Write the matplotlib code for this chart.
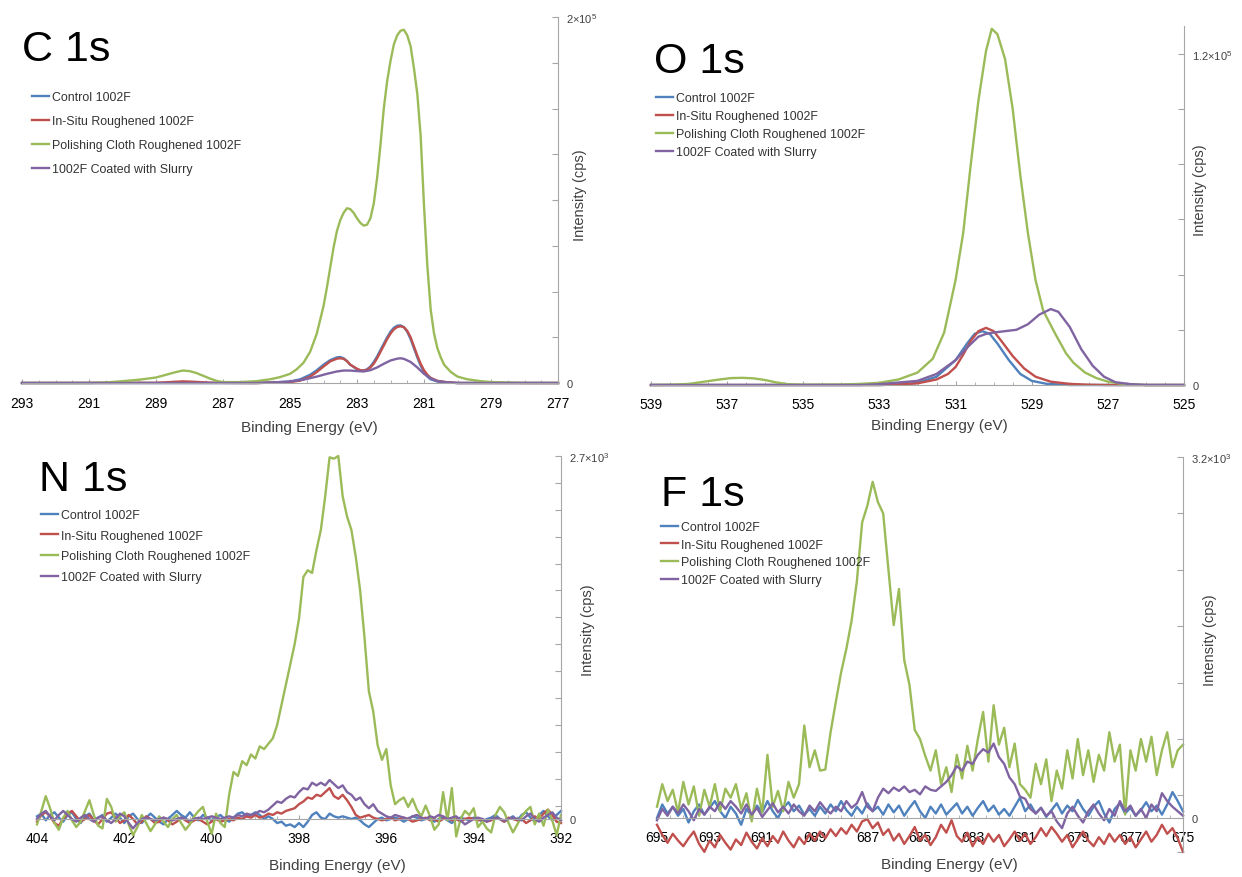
import numpy as np
import matplotlib
matplotlib.use('Agg')
import matplotlib.pyplot as plt
from matplotlib.ticker import MultipleLocator

plt.rcParams['font.family'] = ['Liberation Sans', 'DejaVu Sans']
plt.rcParams['mathtext.fontset'] = 'custom'
plt.rcParams['mathtext.rm'] = 'Liberation Sans'

W, H = 1242, 878

labels = ['Control 1002F', 'In-Situ Roughened 1002F',
          'Polishing Cloth Roughened 1002F', '1002F Coated with Slurry']
colors = ['#4F81BD', '#C0504D', '#9BBB59', '#8064A2']

# ---------------- C 1s (binding energy eV, counts) ----------------
c_blue_x = [293, 286, 285.5, 285.0, 284.7, 284.4, 284.2, 284.0, 283.8, 283.6, 283.5, 283.4, 283.3,
            283.2, 283.0, 282.9, 282.8, 282.7, 282.6, 282.5, 282.4, 282.3, 282.2, 282.1, 282.0,
            281.9, 281.8, 281.7, 281.6, 281.5, 281.4, 281.3, 281.2, 281.1, 281.0, 280.9, 280.8,
            280.6, 280.3, 280, 277]
c_blue_y = [0, 0, 300, 800, 2000, 4500, 7000, 10000, 12500, 14000, 14200, 13500, 12000,
            10000, 7500, 6800, 6800, 7500, 9000, 11500, 14500, 18000, 21500, 25000, 28000,
            30200, 31300, 31500, 30500, 28000, 24000, 19000, 14000, 9500, 6000, 3500, 2000,
            800, 300, 0, 0]

c_red_x = [293, 289, 288.6, 288.2, 287.8, 287.3, 286, 285.5, 285.0, 284.7, 284.4, 284.2, 284.0,
           283.8, 283.6, 283.5, 283.4, 283.3, 283.2, 283.0, 282.9, 282.8, 282.7, 282.6, 282.5,
           282.4, 282.3, 282.2, 282.1, 282.0, 281.9, 281.8, 281.7, 281.6, 281.5, 281.4, 281.3,
           281.2, 281.1, 281.0, 280.9, 280.8, 280.6, 280.3, 280, 277]
c_red_y = [0, 100, 500, 900, 600, 100, 0, 200, 500, 1300, 3500, 6000, 9000,
           11800, 13300, 13500, 13200, 12000, 10000, 7800, 7000, 6800, 7200, 8500, 10500,
           13500, 17000, 20500, 24000, 27000, 29300, 30600, 31000, 30500, 28500, 25000, 20000,
           15000, 10500, 7000, 4500, 2800, 1200, 400, 0, 0]

c_green_x = [293, 291, 290.5, 290.0, 289.5, 289.0, 288.7, 288.4, 288.2, 288.0, 287.8, 287.6,
             287.4, 287.2, 287.0, 286.5, 286.0, 285.6, 285.3, 285.0, 284.8, 284.6, 284.4, 284.2,
             284.0, 283.9, 283.8, 283.7, 283.6, 283.5, 283.4, 283.3, 283.2, 283.1, 283.0, 282.9,
             282.8, 282.7, 282.6, 282.5, 282.4, 282.3, 282.2, 282.1, 282.0, 281.9, 281.8, 281.7,
             281.6, 281.5, 281.4, 281.3, 281.2, 281.1, 281.0, 280.9, 280.8, 280.7, 280.6, 280.5,
             280.4, 280.2, 280.0, 279.7, 279.3, 279.0, 278.0, 277.0]
c_green_y = [0, 0, 300, 1000, 1800, 3000, 4500, 6000, 6800, 6500, 5500, 4000,
             2500, 1200, 500, 500, 1000, 2000, 3200, 5000, 7500, 11000, 17000, 27000,
             42000, 52000, 63000, 74000, 83000, 89000, 93000, 95500, 95000, 93000, 90000, 87500,
             86000, 86500, 90000, 98000, 112000, 130000, 150000, 165000, 176000, 185000, 190000, 192500,
             193000, 190000, 184000, 172000, 158000, 135000, 97000, 64000, 40000, 27000, 19000, 14000,
             10000, 6000, 3500, 2000, 1000, 500, 0, 0]

c_purple_x = [293, 286, 285.5, 285.0, 284.6, 284.2, 283.9, 283.6, 283.4, 283.2, 283.0, 282.8,
              282.6, 282.4, 282.2, 282.0, 281.8, 281.7, 281.6, 281.4, 281.2, 281.0, 280.8,
              280.6, 280.3, 280, 277]
c_purple_y = [0, 0, 300, 800, 1800, 3500, 5000, 6300, 6800, 6800, 6500, 6300,
              7000, 8500, 10500, 12300, 13300, 13500, 13200, 11500, 8500, 5000, 2500,
              1000, 300, 0, 0]

# ---------------- O 1s ----------------
o_blue_x = [539, 533, 532.5, 532, 531.5, 531.0, 530.7, 530.5, 530.3, 530.1, 529.9, 529.6,
            529.3, 529.0, 528.6, 528, 525]
o_blue_y = [0, 0, 200, 800, 3000, 9000, 15000, 18500, 19500, 18500, 15000, 9000,
            4000, 1500, 400, 0, 0]

o_red_x = [539, 533, 532.5, 532, 531.5, 531.2, 531.0, 530.8, 530.6, 530.4, 530.2, 530.0, 529.8,
           529.5, 529.2, 528.9, 528.5, 528, 527.5, 527, 525]
o_red_y = [0, 0, 200, 600, 2000, 4000, 6500, 11000, 16000, 19500, 20700, 19500, 16000,
           10500, 6000, 3000, 1200, 400, 100, 0, 0]

o_green_x = [539, 538.5, 538.0, 537.6, 537.2, 536.9, 536.6, 536.3, 536.0, 535.7, 535.4, 535.0,
             534.0, 533.5, 533.0, 532.5, 532.0, 531.6, 531.3, 531.0, 530.8, 530.6, 530.4, 530.2,
             530.05, 529.9, 529.7, 529.5, 529.3, 529.1, 528.9, 528.7, 528.4, 528.1, 527.9, 527.6,
             527.3, 527.0, 526.6, 526.0, 525]
o_green_y = [0, 100, 400, 1200, 2000, 2500, 2600, 2400, 1800, 900, 300, 100,
             200, 400, 800, 2000, 4500, 9500, 19000, 38000, 55000, 80000, 103000, 121000,
             129000, 127000, 118000, 100000, 76000, 55000, 38000, 27000, 19000, 11500, 8000, 4500,
             2500, 1200, 400, 0, 0]

o_purple_x = [539, 533.5, 533, 532, 531.5, 531, 530.7, 530.4, 530.2, 530, 529.7, 529.4, 529.1,
              528.8, 528.5, 528.3, 528.0, 527.7, 527.4, 527.1, 526.8, 526.4, 526, 525]
o_purple_y = [0, 0, 300, 1500, 4000, 9000, 13500, 17500, 18500, 19000, 19500, 20000, 22000,
              25500, 27500, 26500, 21000, 13000, 7000, 3000, 1000, 300, 0, 0]

# ---------------- N 1s (404.0 -> 392.0 eV, 0.1 eV steps) ----------------
n_start, n_stop = 404.0, 392.0
n_blue = [20, 40, -10, 30, 50, 10, -20, 30, 50, 0,
          -30, 20, 40, -10, 10, 30, -20, 10, 40, 10,
          -30, 20, 40, 0, -30, 10, 40, 10, -20, -40,
          0, 30, 60, 30, 10, 50, 10, -10, 30, 10,
          -10, 10, 30, 0, -20, 10, 40, 50, 20, 30,
          50, 30, 0, 20, 0, -30, -20, -50, -40, -60,
          -30, -60, -20, 30, 50, 10, 0, 40, 20, 10,
          20, 10, 0, 10, -10, -40, -60, -30, 0, 10,
          -10, 0, 10, 0, -20, 0, 20, 10, -10, 0,
          10, -20, 0, 10, -10, -30, 0, 10, 0, -10,
          10, 0, -20, 0, 10, 30, 0, -20, 0, 20,
          -10, 30, 50, 10, -20, 30, 60, 20, -10, 30,
          60]
n_red = [-20, 30, 50, 20, -30, -50, 0, 40, 60, 20,
         -20, 0, 30, -10, -40, 0, 40, 50, 10, -30,
         -10, 30, 0, -40, -20, 20, 0, -30, -20, 10,
         -10, -40, -20, 10, -10, -30, -10, 0, -20, -40,
         -20, 0, -20, -10, 0, -10, 10, 0, 20, 10,
         30, 10, 20, 40, 30, 50, 40, 60, 70, 80,
         110, 130, 160, 150, 180, 170, 200, 230, 170, 150,
         180, 140, 90, 30, 10, 20, 30, 10, 0, -10,
         0, 10, -10, 0, 10, 0, -20, -10, 0, 10,
         -10, 0, -20, 0, 10, -10, 0, -20, 0, 10,
         0, -10, 0, -20, -10, 10, 0, -20, 10, 0,
         -10, 0, -30, -10, 20, 0, 40, 70, 30, -20,
         -30]
n_green = [-40, 60, 170, 80, -30, -80, 10, 60, -10, -60,
           -20, 60, 140, 30, -50, -70, 150, 90, -20, 20,
           50, -40, -120, -60, 30, -30, -90, -40, 20, -20,
           -60, 0, 30, -30, -80, -40, 20, 60, 90, -20,
           -110, 40, -30, -60, 180, 350, 320, 430, 400, 480,
           450, 540, 520, 560, 600, 700, 850, 1000, 1150, 1300,
           1490, 1800, 1850, 1830, 2000, 2150, 2400, 2690, 2680, 2700,
           2400, 2250, 2150, 1950, 1700, 1350, 950, 800, 550, 440,
           520, 250, 110, 140, 160, 90, 150, 70, 20, 100,
           20, -80, -40, 200, -10, 230, -130, 0, 60, 30,
           80, -60, -20, -70, -100, 30, 90, 50, -30, -100,
           -40, 20, 60, 90, -40, 40, -50, 70, -10, -120,
           30]
n_purple = [0, 40, 60, 20, -10, 30, 60, 30, 0, -20,
            10, 30, 0, -20, 10, 20, -10, -30, 0, 40,
            20, -30, -70, -30, 0, 10, 0, -10, 0, 10,
            0, -10, 0, 10, 0, -10, 0, 10, 0, 10,
            20, 10, 0, 10, 20, 10, 30, 20, 40, 30,
            40, 60, 50, 70, 100, 130, 120, 150, 170, 160,
            200, 230, 220, 270, 250, 270, 250, 290, 260, 230,
            250, 200, 180, 140, 160, 110, 80, 110, 60, 40,
            20, 10, 30, 20, 10, 0, 20, 30, 10, 0,
            20, 10, 30, 20, 0, 10, 20, -10, -40, -20,
            0, 10, 0, -20, 0, 10, 0, -10, 0, 10,
            0, -10, 20, 40, 0, -20, 10, 30, 50, 10,
            -10]

# ---------------- F 1s (695.0 -> 675.0 eV, 0.2 eV steps) ----------------
f_start, f_stop = 695.0, 675.0
f_blue = [0, 120, 40, 100, 20, 80, -40, 60, 120, 30,
          90, 150, 60, 0, 100, 40, -60, 80, 20, 110,
          50, 150, 60, 0, 90, 140, 60, 110, 30, 80,
          20, 100, 40, 120, 60, 150, 70, 20, 100, 40,
          130, 60, 100, 30, 120, 50, 110, 20, 90, 150,
          60, 0, 100, 40, 120, 30, 80, 130, 40, 100,
          20, 90, 150, 60, 110, 30, 80, 20, 100, 180,
          60, 120, 40, 90, 10, 70, 130, 40, 110, 60,
          160, 80, 20, 100, 150, 40, -40, 80, 130, 40,
          90, 20, 70, 140, 60, 110, 30, 120, 230, 150,
          60]
f_red = [-60, -150, -220, -140, -200, -250, -180, -120, -230, -300,
         -200, -260, -150, -220, -280, -190, -240, -130, -210, -270,
         -180, -250, -160, -220, -120, -200, -260, -170, -230, -140,
         -200, -120, -180, -100, -160, -90, -140, -60, -120, -30,
         -10, -90, -40, -150, -100, -200, -140, -230, -160, -80,
         -200, -150, -240, -170, -60, -130, -20, -160, -210, -130,
         -250, -170, -230, -140, -210, -150, -250, -190, -120, -200,
         -140, -230, -170, -90, -160, -80, -140, -210, -150, -260,
         -190, -120, -200, -250, -170, -230, -140, -210, -150, -230,
         -170, -260, -190, -120, -210, -150, -60, -140, -90, -180,
         -300]
f_green = [100, 300, 150, 250, 50, 320, 120, 280, 20, 250,
           100, 300, 60, 260, 180, 300, 80, 220, -30, 260,
           50, 560, 100, 240, 60, 320, 180, 300, 820, 450,
           600, 420, 430, 760, 1030, 1290, 1500, 1750, 2100, 2620,
           2770, 2980, 2800, 2700, 2200, 1710, 2030, 1400, 1180, 780,
           700, 550, 420, 600, 300, 450, 230, 560, 350, 640,
           420, 700, 940, 500, 1000, 650, 800, 450, 660, 300,
           250, 180, 480, 300, 520, 150, 420, 260, 600, 350,
           700, 380, 600, 320, 560, 420, 760, 500, 650, 30,
           600, 420, 700, 500, 720, 380, 600, 760, 450, 600,
           650]
f_purple = [-20, 80, 20, 100, 40, 120, 60, -20, 80, 30,
            100, 60, 140, 80, 150, 100, 40, 120, 30, 90,
            10, 70, 130, 50, 100, 40, 120, 60, 20, 110,
            60, 140, 80, 40, 100, 60, 150, 90, 130, 230,
            100, 60, 180, 260, 220, 270, 240, 280, 230, 250,
            210, 280, 250, 240, 280, 320, 380, 460, 420, 500,
            480, 560, 610, 580, 660, 540, 480, 360, 300, 190,
            170, 80, 40, 90, 20, 60, -30, -90, 40, 100,
            20, -40, 60, 120, 40, -20, 80, 20, 150, 60,
            110, 20, 80, 0, 120, 60, 220, 150, 100, 60,
            20]

fig = plt.figure(figsize=(W / 100, H / 100), dpi=100)
gray = '#A6A6A6'
txt = '#404040'


def make_panel(l, r, top, zero, ymin, ymax):
    # place axes so that data ymax sits at pixel `top` and 0 at pixel `zero`
    scale = (zero - top) / ymax
    bottom = zero - ymin * scale
    ax = fig.add_axes([l / W, 1 - bottom / H, (r - l) / W, (bottom - top) / H])
    ax.set_ylim(ymin, ymax)
    box = (l, r, top, bottom)
    return ax, box


def style(ax, box, xlim, xticks, yticks, ylabels, spine_lo, title, title_pos,
          xlab_pos, ylab_pos, leg_pos, leg_space):
    l, r, top, bottom = box
    ax.set_xlim(*xlim)
    ax.set_xticks(xticks)
    ax.set_xticklabels([str(t) for t in xticks], fontsize=10, fontweight='bold', color=txt)
    ax.xaxis.set_minor_locator(MultipleLocator(0.5))
    ax.set_yticks(yticks)
    ax.set_yticklabels(ylabels, fontsize=8, color=txt)
    for s in ['left', 'top']:
        ax.spines[s].set_visible(False)
    ax.spines['bottom'].set_position(('data', 0))
    ax.spines['bottom'].set_color(gray)
    ax.spines['right'].set_color(gray)
    ax.spines['right'].set_bounds(spine_lo, ax.get_ylim()[1])
    ax.yaxis.tick_right()
    ax.tick_params(axis='y', which='both', direction='in', length=4, color=gray, pad=6)
    ax.tick_params(axis='x', which='major', direction='in', length=3, color=gray, pad=9)
    ax.tick_params(axis='x', which='minor', direction='in', length=2, color=gray)
    ax.patch.set_alpha(0)

    ax.set_xlabel('Binding Energy (eV)', fontsize=11, color=txt)
    ax.xaxis.set_label_coords((xlab_pos[0] - l) / (r - l), (bottom - xlab_pos[1]) / (bottom - top))
    ax.xaxis.label.set_va('center')
    ax.yaxis.set_label_position('right')
    ax.set_ylabel('Intensity (cps)', fontsize=10.5, color=txt, rotation=90)
    ax.yaxis.set_label_coords((ylab_pos[0] - l) / (r - l), (bottom - ylab_pos[1]) / (bottom - top))
    ax.yaxis.label.set_va('center')
    ax.yaxis.label.set_ha('center')

    fig.text(title_pos[0] / W, 1 - title_pos[1] / H, title, fontsize=31,
             va='baseline', ha='left', color='black')
    ax.legend(loc='upper left', bbox_to_anchor=(leg_pos[0] / W, 1 - leg_pos[1] / H),
              bbox_transform=fig.transFigure, frameon=False, fontsize=8.9,
              labelcolor='#333333', handlelength=1.35, handletextpad=0.25,
              labelspacing=leg_space, borderpad=0, borderaxespad=0)


def draw(ax, xs, ys):
    for x, y, c, lab in zip(xs, ys, colors, labels):
        ax.plot(x, y, color=c, lw=1.7, label=lab, clip_on=False, solid_joinstyle='round')


# C 1s
ax, box = make_panel(22, 558, 18, 384, -2500, 200000)
draw(ax, [c_blue_x, c_red_x, c_green_x, c_purple_x], [c_blue_y, c_red_y, c_green_y, c_purple_y])
c_ticks = list(range(0, 200001, 25000))
style(ax, box, (293, 277), list(range(293, 276, -2)), c_ticks,
      ['0'] + [''] * 7 + ['2×10$^5$'], 0, 'C 1s', (22, 61), (309, 428), (580, 195),
      (32, 92), 0.98)

# O 1s
ax, box = make_panel(651, 1184, 27, 386, -1500, 130000)
draw(ax, [o_blue_x, o_red_x, o_green_x, o_purple_x], [o_blue_y, o_red_y, o_green_y, o_purple_y])
o_ticks = list(range(0, 120001, 20000))
style(ax, box, (539, 525), list(range(539, 524, -2)), o_ticks,
      ['0'] + [''] * 5 + ['1.2×10$^5$'], 0, 'O 1s', (654, 73), (939, 426), (1200, 190),
      (656, 93.5), 0.48)

# N 1s
ax, box = make_panel(37, 561, 457, 820, -160, 2700)
n_x = np.linspace(n_start, n_stop, len(n_green))
draw(ax, [n_x] * 4, [n_blue, n_red, n_green, n_purple])
n_ticks = [0] + list(range(100, 2700, 200)) + [2700]
style(ax, box, (404, 392), list(range(404, 391, -2)), n_ticks,
      ['0'] + [''] * (len(n_ticks) - 2) + ['2.7×10$^3$'], 0, 'N 1s', (39, 491), (337, 866),
      (588, 630), (41, 510), 0.70)

# F 1s
ax, box = make_panel(657, 1183, 458, 819, -300, 3200)
f_x = np.linspace(f_start, f_stop, len(f_green))
draw(ax, [f_x] * 4, [f_blue, f_red, f_green, f_purple])
f_ticks = [-300, 0] + list(range(200, 3201, 500))
style(ax, box, (695, 675), list(range(695, 674, -2)), f_ticks,
      ['', '0'] + [''] * 6 + ['3.2×10$^3$'], -300, 'F 1s', (661, 506), (949, 865),
      (1210, 640), (661, 522), 0.46)

fig.savefig('out.png', dpi=100)
